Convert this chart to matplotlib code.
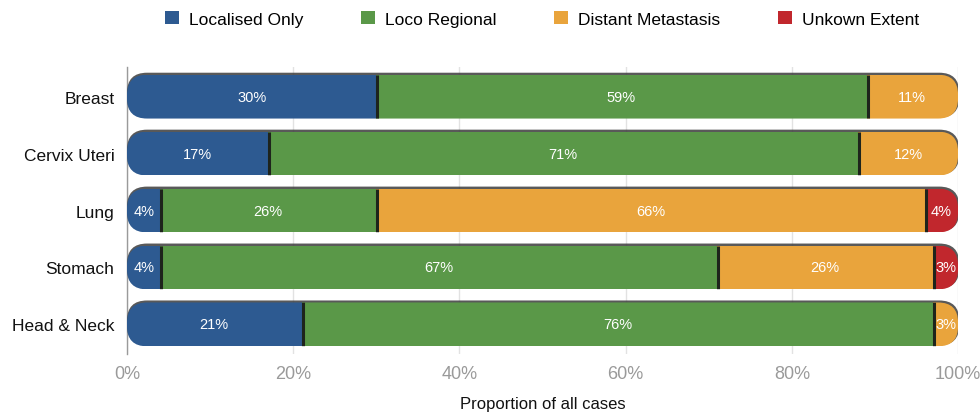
import matplotlib
matplotlib.use("Agg")
import matplotlib.pyplot as plt
from matplotlib.patches import FancyBboxPatch, Patch

plt.rcParams['font.family'] = ['Liberation Sans', 'DejaVu Sans']

categories = ["Breast", "Cervix Uteri", "Lung", "Stomach", "Head & Neck"]
series_names = ["Localised Only", "Loco Regional", "Distant Metastasis", "Unkown Extent"]
localised = [30, 17, 4, 4, 21]
loco_regional = [59, 71, 26, 67, 76]
distant = [11, 12, 66, 26, 3]
unknown = [0, 0, 4, 3, 0]
x_ticks = [0, 20, 40, 60, 80, 100]
x_tick_labels = ["0%", "20%", "40%", "60%", "80%", "100%"]

colors = ["#2d5a91", "#5a9848", "#e9a43c", "#c1272d"]
series = [localised, loco_regional, distant, unknown]

fig = plt.figure(figsize=(9.8, 4.14), dpi=100)
ax = fig.add_axes([0.1296, 0.1425, 0.848, 0.6932])

ax.set_xlim(0, 100)
ax.set_ylim(4.52, -0.52)

bar_h = 0.77
px_x = 0.848 * 980 / 100.0
px_y = 0.6932 * 414 / 5.04
asp = px_x / px_y
r_px = 20
r_x = r_px / px_x

for i, cat in enumerate(categories):
    total = sum(s[i] for s in series)
    sh = FancyBboxPatch((0, i - bar_h / 2 - 2.0 / px_y), total + 0.15, bar_h + 1.0 / px_y,
                        boxstyle=f"round,pad=0,rounding_size={r_x}",
                        mutation_aspect=asp, facecolor="#3c3c3c", edgecolor="none",
                        alpha=0.85, zorder=2, transform=ax.transData)
    ax.add_patch(sh)
    clip = FancyBboxPatch((0, i - bar_h / 2), total, bar_h,
                          boxstyle=f"round,pad=0,rounding_size={r_x}",
                          mutation_aspect=asp, facecolor="none", edgecolor="none",
                          transform=ax.transData)
    ax.add_patch(clip)
    left = 0
    segs = [(s[i], c) for s, c in zip(series, colors)]
    nonzero = [k for k, (v, c) in enumerate(segs) if v > 0]
    for k, (v, c) in enumerate(segs):
        if v <= 0:
            continue
        b = ax.barh(i, v, left=left, height=bar_h, color=c, edgecolor="none", zorder=3)
        for p in b:
            p.set_clip_path(clip)
        ax.text(left + v / 2, i, f"{v}%", ha="center", va="center", color="white",
                fontsize=10.5, zorder=5)
        if k != nonzero[-1]:
            ln, = ax.plot([left + v + 0.12, left + v + 0.12], [i - bar_h / 2, i + bar_h / 2],
                          color="#1e241c", lw=2.2, zorder=4, solid_capstyle="butt")
            ln.set_clip_path(clip)
        left += v

ax.set_xticks(x_ticks)
ax.set_xticklabels(x_tick_labels)
ax.set_yticks(range(len(categories)))
ax.set_yticklabels(categories)
ax.tick_params(axis="x", length=0, pad=8, labelsize=13, labelcolor="#9a9a9a")
ax.tick_params(axis="y", length=0, pad=9, labelsize=12.5, labelcolor="#111111")
ax.grid(axis="x", color="#e2e2e2", lw=1, zorder=0)
ax.set_axisbelow(True)
for s in ["top", "right", "bottom"]:
    ax.spines[s].set_visible(False)
ax.spines["left"].set_color("#9a9a9a")
ax.spines["left"].set_linewidth(1)
ax.spines["left"].set_zorder(1)

ax.set_xlabel("Proportion of all cases", fontsize=12, color="#111111", labelpad=10)

handles = [Patch(facecolor=c, edgecolor="none") for c in colors]
fig.legend(handles, series_names, loc="center", bbox_to_anchor=(0.553, 0.952), ncol=4,
           frameon=False, fontsize=12.5, handlelength=0.8, handleheight=0.8,
           handletextpad=0.6, columnspacing=3.3)

fig.savefig("out.png", dpi=100)
